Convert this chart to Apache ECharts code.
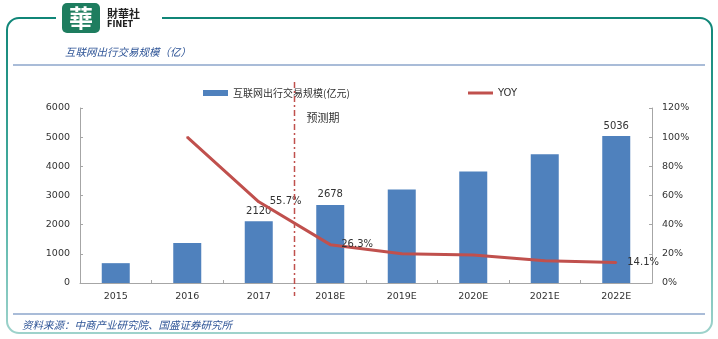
<!DOCTYPE html>
<html><head><meta charset="utf-8">
<script src="https://cdn.jsdelivr.net/npm/echarts@6/dist/echarts.min.js"></script>
<style>html,body{margin:0;padding:0;background:#fff}#c{width:718px;height:339px}</style>
</head><body><div id="c"></div>
<script>
var categories = ['2015','2016','2017','2018E','2019E','2020E','2021E','2022E'];
var scaleValues = [680, 1370, 2120, 2678, 3210, 3820, 4413, 5036];
var yoyValues = [null, 100, 55.7, 26.3, 20.0, 19.2, 15.3, 14.1];
var labeledIdx = [2, 3, 7];
var leftTicks = [0, 6000, 1000];
var rightTicks = [0, 120, 20];
var barName = '互联网出行交易规模(亿元)';
var lineName = 'YOY';
var titleText = '互联网出行交易规模（亿）';
var sourceText = '资料来源：中商产业研究院、国盛证券研究所';
var forecastText = '预测期';

var BLUE = '#4f81bd', RED = '#c0504d', AXIS = '#a6a6a6', TXT = '#333';
var numFont = 'DejaVu Sans';
var cjk = 'Noto Sans CJK SC';

var barData = scaleValues.map(function (v, i) {
  return { value: v, label: { show: labeledIdx.indexOf(i) >= 0 } };
});
var lineData = yoyValues.map(function (v, i) {
  return { value: v, label: { show: labeledIdx.indexOf(i) >= 0 } };
});

var chart = echarts.init(document.getElementById('c'));
var frameGrad = new echarts.graphic.LinearGradient(0, 0, 0, 1, [
  { offset: 0, color: '#0f8577' }, { offset: 0.6, color: '#4fb3a6' }, { offset: 1, color: '#9fd3cc' }
]);
var baseGraphics = [
  { type: 'rect', shape: { x: 7, y: 18, width: 705, height: 315, r: 12 }, style: { fill: 'none', stroke: frameGrad, lineWidth: 2 }, z: 1 },
  { type: 'rect', shape: { x: 56, y: 8, width: 106, height: 20 }, style: { fill: '#fff' }, z: 2 },
  { type: 'rect', shape: { x: 62, y: 3, width: 38, height: 30, r: 5 }, style: { fill: '#1e7d5f' }, z: 3 },
  { type: 'text', style: { text: '華', x: 81, y: 18, align: 'center', verticalAlign: 'middle', fill: '#fff', font: 'bold 24px "Noto Sans CJK TC"' }, z: 4 },
  { type: 'text', style: { text: '財華社', x: 107, y: 14, verticalAlign: 'middle', fill: '#222', font: 'bold 11px "Noto Sans CJK TC"' }, z: 4 },
  { type: 'text', style: { text: 'FINET', x: 107, y: 25, verticalAlign: 'middle', fill: '#222', font: 'bold 8px "DejaVu Sans"', letterSpacing: 2 }, z: 4 },
  { type: 'text', style: { text: titleText, x: 65, y: 52, verticalAlign: 'middle', fill: '#2f5597', font: 'italic 10.5px ' + cjk }, z: 4 },
  { type: 'line', shape: { x1: 13, y1: 65, x2: 705, y2: 65 }, style: { stroke: '#a9bcd8', lineWidth: 2 }, z: 3 },
  { type: 'line', shape: { x1: 13, y1: 314, x2: 705, y2: 314 }, style: { stroke: '#a9bcd8', lineWidth: 2 }, z: 3 },
  { type: 'text', style: { text: sourceText, x: 22, y: 325, verticalAlign: 'middle', fill: '#2f5597', font: 'italic 10.5px ' + cjk }, z: 4 }
];

var option = {
  animation: false,
  backgroundColor: '#fff',
  grid: { left: 80, right: 66, top: 108, bottom: 56 },
  legend: [
    { left: 198, top: 83, itemWidth: 25, itemHeight: 6, itemGap: 5, icon: 'rect',
      data: [barName], textStyle: { fontFamily: cjk, fontSize: 10, color: TXT } },
    { left: 463, top: 83, itemWidth: 25, itemHeight: 3, itemGap: 2, icon: 'rect',
      data: [lineName], textStyle: { fontFamily: numFont, fontSize: 10, color: TXT } }
  ],
  xAxis: {
    type: 'category', data: categories,
    axisLine: { lineStyle: { color: AXIS } },
    axisTick: { show: true, inside: true, length: 3, lineStyle: { color: AXIS } },
    axisLabel: { color: TXT, fontFamily: numFont, fontSize: 9.5, margin: 9 }
  },
  yAxis: [
    { type: 'value', min: leftTicks[0], max: leftTicks[1], interval: leftTicks[2],
      splitLine: { show: false },
      axisLine: { show: true, lineStyle: { color: AXIS } },
      axisTick: { show: true, inside: true, length: 3, lineStyle: { color: AXIS } },
      axisLabel: { color: TXT, fontFamily: numFont, fontSize: 9.5, margin: 10,
        formatter: function (v) { return String(v); } } },
    { type: 'value', min: rightTicks[0], max: rightTicks[1], interval: rightTicks[2],
      splitLine: { show: false },
      axisLine: { show: true, lineStyle: { color: AXIS } },
      axisTick: { show: true, inside: true, length: 3, lineStyle: { color: AXIS } },
      axisLabel: { color: TXT, fontFamily: numFont, fontSize: 9.5, margin: 10, formatter: '{value}%' } }
  ],
  series: [
    { name: barName, type: 'bar', data: barData, barWidth: 28, itemStyle: { color: BLUE },
      label: { position: 'top', distance: 5, color: TXT, fontFamily: numFont, fontSize: 10 } },
    { name: lineName, type: 'line', yAxisIndex: 1, data: lineData, showSymbol: true, symbol: 'circle', symbolSize: 2,
      lineStyle: { color: RED, width: 3 }, itemStyle: { color: RED },
      label: { position: 'right', distance: 10, color: TXT, fontFamily: numFont, fontSize: 10,
        formatter: function (p) { return p.value.toFixed(1) + '%'; } } }
  ],
  graphic: baseGraphics
};
chart.setOption(option);

var xa = chart.convertToPixel({ xAxisIndex: 0 }, categories[2]);
var xb = chart.convertToPixel({ xAxisIndex: 0 }, categories[3]);
var mid = (xa + xb) / 2;
chart.setOption({
  graphic: baseGraphics.concat([
    { type: 'line', shape: { x1: mid, y1: 82, x2: mid, y2: 296 }, style: { stroke: RED, lineWidth: 1.5, lineDash: [6, 3, 2, 3] }, z: 5 },
    { type: 'text', style: { text: forecastText, x: mid + 12, y: 118, verticalAlign: 'middle', fill: TXT, font: '11px ' + cjk }, z: 5 }
  ])
});
</script></body></html>
